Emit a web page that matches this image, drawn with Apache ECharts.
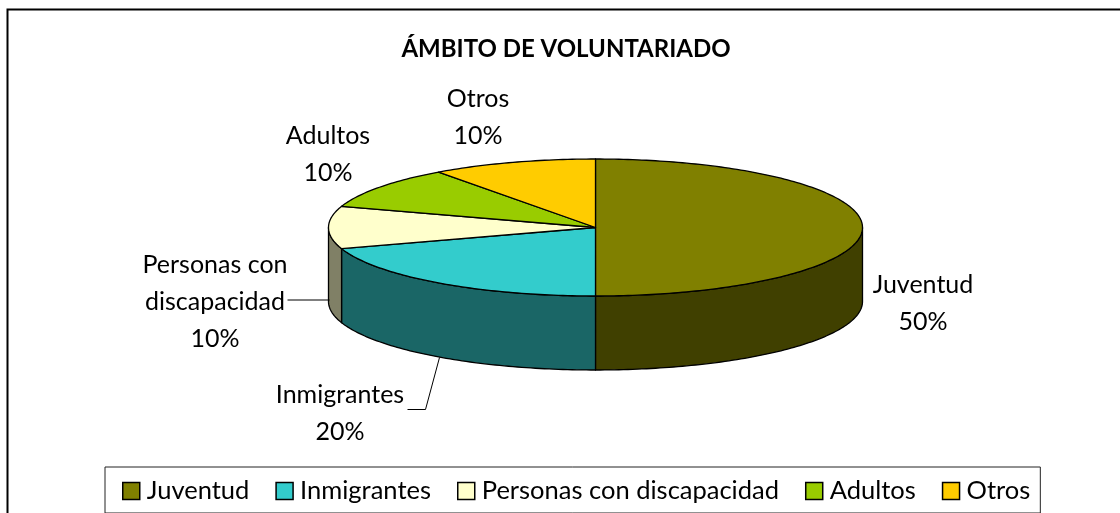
<!DOCTYPE html>
<html><head><meta charset="utf-8">
<style>html,body{margin:0;padding:0;background:#fff}#c{width:1120px;height:513px}</style>
<script src="https://cdn.jsdelivr.net/npm/echarts@6/dist/echarts.min.js"></script>
</head><body><div id="c"></div>
<script>
const categories = ['Juventud','Inmigrantes','Personas con discapacidad','Adultos','Otros'];
const values = [50,20,10,10,10];
const percentLabels = ['50%','20%','10%','10%','10%'];

const topColors = ['#808000','#33CCCC','#FFFFCC','#99CC00','#FFCC00'];
const sideColors = ['#404000','#1A6666','#808066','#4D6600','#806600'];
const FONT = 'Lato';
const CX = 595.5, CY = 227.5, RX = 267, RY = 68.5, DEPTH = 74;
// label anchors relative to the pie's centre
const labelLines = [
  [['Juventud'],[327.5,39]],
  [['Inmigrantes'],[-255.5,149]],
  [['Personas con','discapacidad'],[-380.5,19]],
  [['Adultos'],[-267.5,-110]],
  [['Otros'],[-117.5,-147]]
];
const leaders = [null, [[-156,130],[-170,182],[-188,182]], [[-266,72.5],[-308,72.5]], null, null];

const total = values.reduce((a,b)=>a+b,0);
const pt = (deg,dy)=>{const r=deg*Math.PI/180;return [CX+RX*Math.sin(r),CY-RY*Math.cos(r)+(dy||0)];};
function arc(a,b,dy){const n=Math.max(2,Math.ceil(Math.abs(b-a)));const o=[];for(let i=0;i<=n;i++)o.push(pt(a+(b-a)*i/n,dy));return o;}
const stroke={stroke:'#000',lineWidth:1.3,lineJoin:'round'};

function renderSlice(idx){
  return function(params,api){
    if(params.dataIndex!==0) return null;
    const v=api.value(0), before=api.value(1);
    const a=before/total*360, b=(before+v)/total*360;
    const children=[];
    const s=Math.max(a,90), e=Math.min(b,270);
    if(e>s){
      const pts=arc(s,e,0).concat(arc(e,s,DEPTH));
      children.push({type:'polygon',z2:1,shape:{points:pts},style:Object.assign({fill:sideColors[idx]},stroke)});
    }
    children.push({type:'polygon',z2:2,shape:{points:[[CX,CY]].concat(arc(a,b,0))},style:Object.assign({fill:topColors[idx]},stroke)});
    const L=labelLines[idx];
    const lines=L[0].concat([percentLabels[idx]]);
    children.push({type:'text',z2:5,style:{x:CX+L[1][0],y:CY+L[1][1],text:lines.join('\n'),align:'center',verticalAlign:'top',fill:'#000',font:'25px '+FONT,lineHeight:37}});
    if(leaders[idx]){
      children.push({type:'polyline',z2:4,shape:{points:leaders[idx].map(p=>[CX+p[0],CY+p[1]])},style:{stroke:'#000',lineWidth:1,fill:null}});
    }
    return {type:'group',children};
  };
}
let cum=0;
const series=categories.map((name,i)=>{
  const d=[values[i],cum];cum+=values[i];
  return {type:'custom',name,coordinateSystem:'none',renderItem:renderSlice(i),data:[d],silent:true,animation:false,
    itemStyle:{color:topColors[i]},z:2};
});

const chart=echarts.init(document.getElementById('c'),null,{renderer:'canvas'});
chart.setOption({
  animation:false,
  backgroundColor:'#fff',
  title:{text:'ÁMBITO DE VOLUNTARIADO',left:561,top:32,textAlign:'center',textStyle:{fontFamily:FONT,fontSize:24,fontWeight:'bold',color:'#000'}},
  legend:{
    left:105,top:467,orient:'horizontal',
    data:categories.map((n,i)=>({name:n,icon:'rect',itemStyle:{color:topColors[i],borderColor:'#000',borderWidth:1.5}})),
    itemWidth:17,itemHeight:17,itemGap:26,padding:[11,10,9,17],
    borderColor:'#222',borderWidth:1,backgroundColor:'#fff',selectedMode:false,
    textStyle:{fontFamily:FONT,fontSize:25.5,color:'#000',lineHeight:25,padding:[0,0,0,2]}
  },
  graphic:[{type:'rect',z:-1,silent:true,shape:{x:7.5,y:9.5,width:1300,height:700},style:{fill:'#fff',stroke:'#000',lineWidth:2}}],
  series
});
</script></body></html>
